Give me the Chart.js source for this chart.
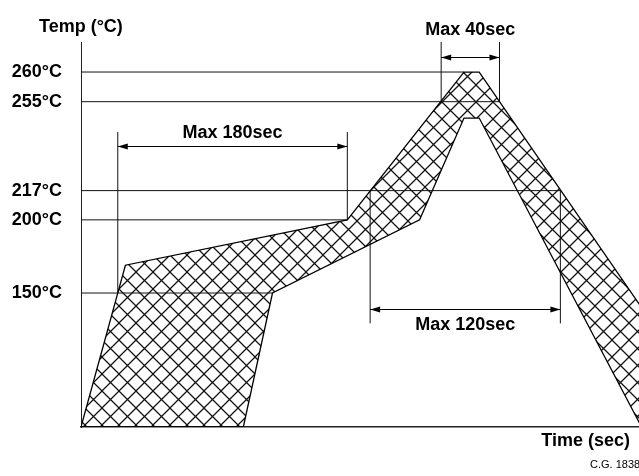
<!DOCTYPE html>
<html>
<head>
<meta charset="utf-8">
<title>Reflow profile</title>
<script src="https://cdn.jsdelivr.net/npm/chart.js@4.4.1/dist/chart.umd.min.js"></script>
<style>
  html, body { margin: 0; padding: 0; background: #fff; }
</style>
</head>
<body>
<canvas id="profile" width="639" height="476"></canvas>
<script>
// temperature levels marked on the y axis (°C)
const tempTicks = [150, 200, 217, 255, 260];

// hatched band, upper edge (time in sec, temp in °C)
const upperTime = [0, 35, 210, 302, 314, 507];
const upperTemp = [0, 169, 200, 260, 260, 0];
// hatched band, lower edge
const lowerTime = [128, 151, 267, 302, 314, 442];
const lowerTemp = [0, 150, 200, 248, 248, 0];

// horizontal level lines and where each one stops
const levelTemp = [260, 255, 217, 200, 150];
const levelEnd = [302, 330, 378, 210, 151];

// vertical marker lines
const markTime = [29, 210, 284, 330, 228, 378];
const markFrom = [150, 200, 255, 255, 116, 116];
const markTo = [242, 242, 270, 270, 217, 217];

// duration arrows
const spanLabels = ["Max 180sec", "Max 40sec", "Max 120sec"];
const spanStart = [29, 284, 228];
const spanEnd = [210, 330, 378];
const spanTemp = [236, 265, 132];

const FONT = "'Liberation Sans', Arial, Helvetica, sans-serif";
Chart.defaults.font.family = FONT;
Chart.defaults.color = "#000";

// the temperature axis of this drawing is schematic, not linear:
// map temperatures piecewise onto the height of the plot
class ProfileScale extends Chart.LinearScale {
    tempToDecimal(v) {
        const a = this.options.anchors;
        if (v <= a[0][0]) return a[0][1];
        for (let i = 1; i < a.length; i++) {
            if (v <= a[i][0]) {
                const t = (v - a[i - 1][0]) / (a[i][0] - a[i - 1][0]);
                return a[i - 1][1] + t * (a[i][1] - a[i - 1][1]);
            }
        }
        return a[a.length - 1][1];
    }
    getPixelForValue(v) {
        return this.getPixelForDecimal(this.tempToDecimal(v));
    }
    getValueForPixel(p) {
        const d = this.getDecimalForPixel(p);
        const a = this.options.anchors;
        for (let i = 1; i < a.length; i++) {
            if (d <= a[i][1]) {
                const t = (d - a[i - 1][1]) / (a[i][1] - a[i - 1][1]);
                return a[i - 1][0] + t * (a[i][0] - a[i - 1][0]);
            }
        }
        return a[a.length - 1][0];
    }
}
ProfileScale.id = "profile";
ProfileScale.defaults = Chart.LinearScale.defaults;
Chart.register(ProfileScale);

function crossHatch(step) {
    const c = document.createElement("canvas");
    c.width = step;
    c.height = step;
    const g = c.getContext("2d");
    g.strokeStyle = "#111";
    g.lineWidth = 1.25;
    g.beginPath();
    g.moveTo(-1, -1); g.lineTo(step + 1, step + 1);
    g.moveTo(step + 1, -1); g.lineTo(-1, step + 1);
    g.stroke();
    return g.createPattern(c, "repeat");
}

const bandPoints = upperTime.map((t, i) => ({ x: t, y: upperTemp[i] }))
    .concat(lowerTime.map((t, i) => ({ x: t, y: lowerTemp[i] })).reverse());
bandPoints.push({ x: upperTime[0], y: upperTemp[0] });

const datasets = [{
    data: bandPoints,
    fill: "shape",
    backgroundColor: crossHatch(17),
    borderColor: "#000",
    borderWidth: 1.3
}];

levelTemp.forEach((t, i) => {
    datasets.push({
        data: [{ x: 0, y: t }, { x: levelEnd[i], y: t }],
        borderColor: "#111",
        borderWidth: 1
    });
});

markTime.forEach((t, i) => {
    datasets.push({
        data: [{ x: t, y: markFrom[i] }, { x: t, y: markTo[i] }],
        borderColor: "#111",
        borderWidth: 1
    });
});

// label offset from its arrow, in px (alphabetic baseline)
const labelShift = [-9, -23, 20];

const notes = {
    id: "notes",
    afterDatasetsDraw(chart) {
        const { ctx, chartArea } = chart;
        const x = chart.scales.x;
        const y = chart.scales.y;
        ctx.save();
        ctx.strokeStyle = "#000";
        ctx.fillStyle = "#000";
        ctx.lineWidth = 1;

        spanLabels.forEach((label, i) => {
            const x1 = x.getPixelForValue(spanStart[i]);
            const x2 = x.getPixelForValue(spanEnd[i]);
            const yy = Math.round(y.getPixelForValue(spanTemp[i])) + 0.5;
            ctx.beginPath();
            ctx.moveTo(x1, yy);
            ctx.lineTo(x2, yy);
            ctx.stroke();
            // arrow heads pointing out to the marker lines
            ctx.beginPath();
            ctx.moveTo(x1, yy);
            ctx.lineTo(x1 + 10, yy - 3);
            ctx.lineTo(x1 + 10, yy + 3);
            ctx.closePath();
            ctx.moveTo(x2, yy);
            ctx.lineTo(x2 - 10, yy - 3);
            ctx.lineTo(x2 - 10, yy + 3);
            ctx.closePath();
            ctx.fill();

            ctx.font = "bold 18px " + FONT;
            ctx.textAlign = "center";
            ctx.textBaseline = "alphabetic";
            ctx.fillText(label, (x1 + x2) / 2, yy + labelShift[i]);
        });

        ctx.font = "bold 18px " + FONT;
        ctx.textAlign = "left";
        ctx.fillText("Temp (°C)", chartArea.left - 42, chartArea.top - 10);
        ctx.textAlign = "right";
        ctx.fillText("Time (sec)", chartArea.right - 9, chartArea.bottom + 19);

        ctx.font = "11px " + FONT;
        ctx.textAlign = "left";
        ctx.fillText("C.G. 1838", chartArea.right - 49, chart.height - 8);
        ctx.restore();
    }
};

new Chart(document.getElementById("profile"), {
    type: "line",
    data: { datasets: datasets },
    options: {
        responsive: false,
        animation: false,
        events: [],
        layout: { padding: { top: 42, left: 12, right: 0, bottom: 49 } },
        elements: {
            point: { radius: 0 },
            line: { tension: 0, fill: false }
        },
        plugins: {
            legend: { display: false },
            tooltip: { enabled: false }
        },
        scales: {
            x: {
                type: "linear",
                min: 0,
                max: 440,
                grid: { display: false, drawTicks: false },
                border: { display: true, color: "#222", width: 1.5 },
                ticks: { display: false }
            },
            y: {
                type: "profile",
                min: 0,
                max: 270,
                anchors: [[0, 0], [150, 0.348], [200, 0.538], [217, 0.614], [255, 0.845], [260, 0.922], [270, 1]],
                grid: { display: false, drawTicks: false },
                border: { display: true, color: "#222", width: 1 },
                afterBuildTicks: scale => {
                    scale.ticks = tempTicks.map(v => ({ value: v }));
                },
                afterFit: scale => {
                    scale.width = 69;
                },
                ticks: {
                    padding: 19,
                    font: { size: 18, weight: "bold" },
                    color: "#000",
                    callback: v => v + "°C"
                }
            }
        }
    },
    plugins: [notes]
});
</script>
</body>
</html>
